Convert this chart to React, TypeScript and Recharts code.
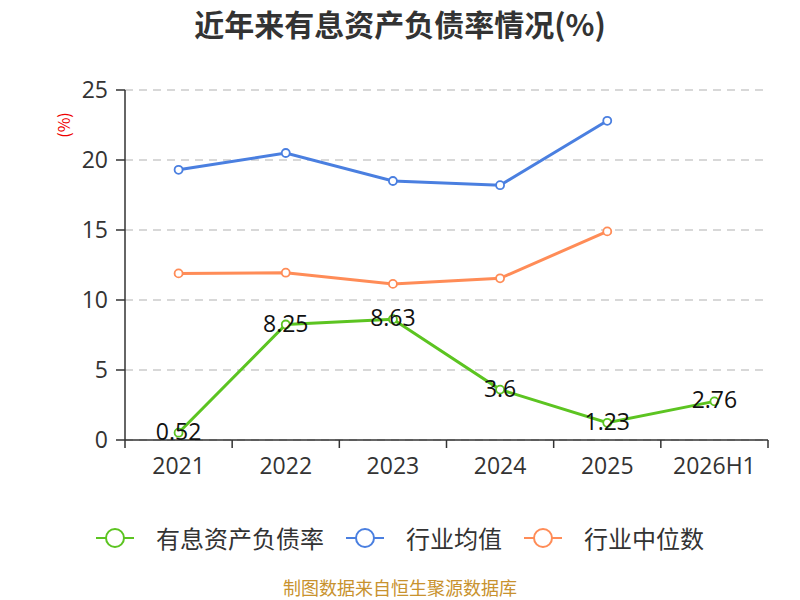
import React from "react";
import { CartesianGrid, LabelList, Line, LineChart, XAxis, YAxis } from "recharts";

const periods = ["2021", "2022", "2023", "2024", "2025", "2026H1"];
const debtRatio = [0.52, 8.25, 8.63, 3.6, 1.23, 2.76];
const industryAvg = [19.3, 20.5, 18.5, 18.2, 22.8, null];
const industryMedian = [11.9, 11.95, 11.15, 11.55, 14.9, null];
const yTicks = [0, 5, 10, 15, 20, 25];

const GREEN = "#5cc421";
const BLUE = "#4a7fe0";
const ORANGE = "#ff8c57";
const FONT = "'Noto Sans CJK SC', 'Noto Sans', sans-serif";
const NUM_FONT = "'Open Sans', 'Noto Sans', sans-serif";

const data = periods.map((p, i) => ({
    period: p,
    rate: debtRatio[i],
    avg: industryAvg[i],
    median: industryMedian[i],
}));

const PLOT_LEFT = 125;
const PLOT_RIGHT = 32;
const BAND = (800 - PLOT_LEFT - PLOT_RIGHT) / periods.length;

function XTick(props: any) {
    const { x, y, payload, index } = props;
    const half = payload && payload.offset ? payload.offset : BAND / 2;
    return (
        <g>
            <line x1={x - half} x2={x - half} y1={y} y2={y + 8} stroke="#333" strokeWidth={1.5} />
            {index === periods.length - 1 && (
                <line x1={x + half} x2={x + half} y1={y} y2={y + 8} stroke="#333" strokeWidth={1.5} />
            )}
            <text x={x} y={y + 25} textAnchor="middle" dominantBaseline="central" fill="#333" fontSize={23} fontFamily={NUM_FONT}>
                {payload.value}
            </text>
        </g>
    );
}

function RateLabel(props: any) {
    const { x, y, value } = props;
    return (
        <text x={x} y={y - 2} textAnchor="middle" dominantBaseline="central" fill="#111" fontSize={23} fontFamily={NUM_FONT}>
            {value}
        </text>
    );
}

function LegendItem({ color, label }: { color: string; label: string }) {
    return (
        <div style={{ display: "flex", alignItems: "center", margin: "0 11px" }}>
            <svg width={38} height={22}>
                <line x1={0} x2={38} y1={11} y2={11} stroke={color} strokeWidth={2} />
                <circle cx={19} cy={11} r={9} fill="#fff" stroke={color} strokeWidth={2} />
            </svg>
            <span style={{ marginLeft: 22, fontSize: 24, color: "#333" }}>{label}</span>
        </div>
    );
}

export default function App() {
    return (
        <div style={{ position: "fixed", left: 0, top: 0, width: 800, height: 600, fontFamily: FONT, background: "#fff" }}>
            <div style={{ position: "absolute", top: 1, left: 0, width: 800, textAlign: "center", fontSize: 30, fontWeight: "bold", color: "#333" }}>
                近年来有息资产负债率情况(%)
            </div>
            <div
                style={{
                    position: "absolute",
                    left: 63,
                    top: 125,
                    transform: "translate(-50%, -50%) rotate(-90deg)",
                    color: "#e00",
                    fontSize: 16,
                    whiteSpace: "nowrap",
                }}
            >
                (%)
            </div>
            <LineChart width={800} height={600} data={data} margin={{ top: 90, right: PLOT_RIGHT, bottom: 100, left: 0 }}>
                <CartesianGrid vertical={false} stroke="#ccc" strokeWidth={1.5} strokeDasharray="8 6" />
                <XAxis
                    dataKey="period"
                    scale="band"
                    height={60}
                    stroke="#333"
                    strokeWidth={1.5}
                    tickLine={false}
                    tickSize={0}
                    tickMargin={0}
                    tick={<XTick />}
                    interval={0}
                />
                <YAxis
                    width={PLOT_LEFT}
                    domain={[0, 25]}
                    ticks={yTicks}
                    stroke="#333"
                    strokeWidth={1.5}
                    tickSize={9}
                    tickMargin={8}
                    tick={{ fill: "#333", fontSize: 23, fontFamily: NUM_FONT }}
                />
                <Line
                    dataKey="avg"
                    stroke={BLUE}
                    strokeWidth={3}
                    dot={{ r: 4, fill: "#fff", stroke: BLUE, strokeWidth: 1.8 }}
                    isAnimationActive={false}
                />
                <Line
                    dataKey="median"
                    stroke={ORANGE}
                    strokeWidth={3}
                    dot={{ r: 4, fill: "#fff", stroke: ORANGE, strokeWidth: 1.8 }}
                    isAnimationActive={false}
                />
                <Line
                    dataKey="rate"
                    stroke={GREEN}
                    strokeWidth={3}
                    dot={{ r: 4, fill: "#fff", stroke: GREEN, strokeWidth: 1.8 }}
                    isAnimationActive={false}
                >
                    <LabelList dataKey="rate" content={<RateLabel />} />
                </Line>
            </LineChart>
            <div style={{ position: "absolute", top: 520, left: 0, width: 800, display: "flex", justifyContent: "center" }}>
                <LegendItem color={GREEN} label="有息资产负债率" />
                <LegendItem color={BLUE} label="行业均值" />
                <LegendItem color={ORANGE} label="行业中位数" />
            </div>
            <div style={{ position: "absolute", top: 574, left: 0, width: 800, textAlign: "center", fontSize: 18, color: "#c8922e" }}>
                制图数据来自恒生聚源数据库
            </div>
        </div>
    );
}
